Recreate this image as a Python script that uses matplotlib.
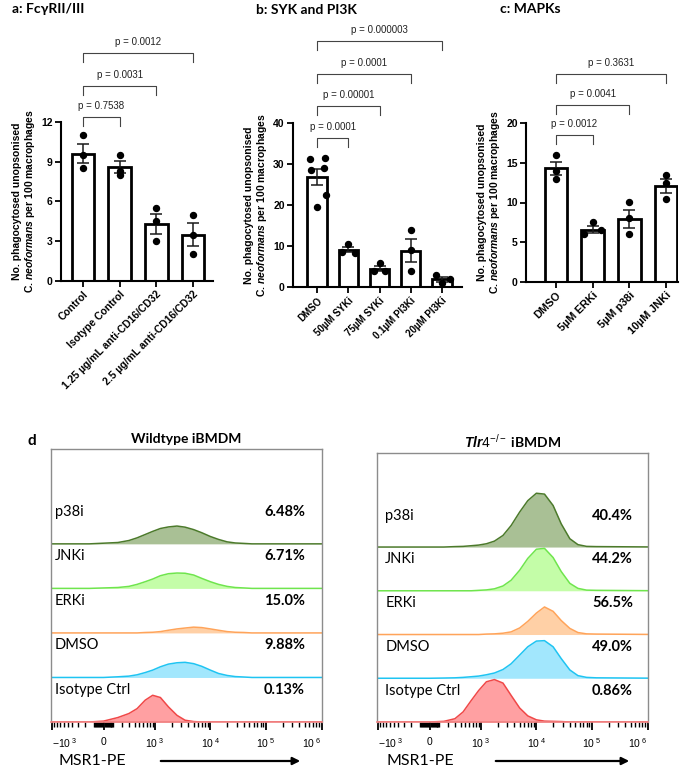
import numpy as np
import matplotlib
matplotlib.use('Agg')
import matplotlib.pyplot as plt
from matplotlib.ticker import NullFormatter

W, H = 698, 767

plt.rcParams['font.family'] = ['Liberation Sans', 'DejaVu Sans']
plt.rcParams['mathtext.fontset'] = 'custom'
plt.rcParams['mathtext.rm'] = 'Liberation Sans'
plt.rcParams['mathtext.it'] = 'Liberation Sans:italic:bold'
plt.rcParams['mathtext.bf'] = 'Liberation Sans:bold'
CAL = ['Lato', 'DejaVu Sans']

# ---- panel a: FcgRII/III blocking ----
a_labels = ['Control', 'Isotype Control', '1.25 µg/mL anti-CD16/CD32', '2.5 µg/mL anti-CD16/CD32']
a_means = [9.6, 8.6, 4.3, 3.5]
a_sems = [0.73, 0.42, 0.75, 0.88]
a_points = [[11.0, 9.5, 8.5], [9.5, 8.3, 8.0], [5.5, 4.5, 3.0], [5.0, 3.5, 2.0]]
a_jitter = [[0, 0, 0], [0, 0, 0], [0, 0, 0], [0, 0, 0]]
a_pairs = [(0, 1), (0, 2), (0, 3)]
a_pvals = ['p = 0.7538', 'p = 0.0031', 'p = 0.0012']

# ---- panel b: SYK and PI3K ----
b_labels = ['DMSO', '50µM SYKi', '75µM SYKi', '0.1µM PI3Ki', '20µM PI3Ki']
b_means = [26.9, 9.1, 4.5, 8.9, 1.9]
b_sems = [1.9, 0.6, 0.6, 2.9, 0.6]
b_points = [[31.1, 31.5, 28.5, 29.1, 22.4, 19.6], [10.5, 8.6, 8.4], [5.9, 3.8, 4.0],
            [13.9, 9.0, 3.9], [2.9, 2.0, 0.9]]
b_jitter = [[-0.23, 0.25, -0.2, 0.23, 0.3, 0], [0, -0.19, 0.21], [0, -0.19, 0.18],
            [0, 0, 0], [-0.2, 0.25, 0]]
b_pairs = [(0, 1), (0, 2), (0, 3), (0, 4)]
b_pvals = ['p = 0.0001', 'p = 0.00001', 'p = 0.0001', 'p = 0.000003']

# ---- panel c: MAPKs ----
c_labels = ['DMSO', '5µM ERKi', '5µM p38i', '10µM JNKi']
c_means = [14.3, 6.6, 7.9, 12.1]
c_sems = [0.85, 0.45, 1.1, 0.85]
c_points = [[16.0, 13.95, 13.0], [7.5, 6.1, 6.6], [10.1, 8.1, 6.1], [13.5, 12.5, 10.5]]
c_jitter = [[0, 0, 0], [0, -0.23, 0.24], [0, 0, 0], [0, 0, 0]]
c_pairs = [(0, 1), (0, 2), (0, 3)]
c_pvals = ['p = 0.0012', 'p = 0.0041', 'p = 0.3631']

# ---- panel d: MSR1-PE histograms (height in units of row spacing) ----
conditions = ['Isotype Ctrl', 'DMSO', 'ERKi', 'JNKi', 'p38i']
msr1_grid = [-2000, -400, -150, 0, 150, 300, 450, 650, 900, 1250, 1750, 2500, 3500,
             5000, 7000, 10000, 14000, 20000, 28000, 40000, 56000, 80000, 120000, 2000000]
wt_hist = {
    'Isotype Ctrl': [0, 0, 0, 0.02, 0.10, 0.19, 0.30, 0.49, 0.60, 0.55, 0.34, 0.15, 0.04,
                     0.01, 0, 0, 0, 0, 0, 0, 0, 0, 0, 0],
    'DMSO': [0, 0, 0, 0, 0.015, 0.03, 0.06, 0.11, 0.165, 0.24, 0.30, 0.33, 0.34,
             0.31, 0.25, 0.165, 0.09, 0.045, 0.02, 0.01, 0, 0, 0, 0],
    'ERKi': [0, 0, 0, 0, 0, 0, 0, 0.01, 0.015, 0.03, 0.06, 0.09, 0.11,
             0.13, 0.12, 0.09, 0.06, 0.03, 0.015, 0.01, 0, 0, 0, 0],
    'JNKi': [0, 0, 0, 0.01, 0.02, 0.045, 0.09, 0.15, 0.21, 0.285, 0.33, 0.345, 0.34,
             0.30, 0.225, 0.15, 0.09, 0.045, 0.02, 0.01, 0, 0, 0, 0],
    'p38i': [0, 0, 0, 0.015, 0.03, 0.075, 0.135, 0.21, 0.28, 0.345, 0.38, 0.40, 0.375,
             0.32, 0.25, 0.165, 0.10, 0.045, 0.02, 0.01, 0, 0, 0, 0],
}
tlr4_hist = {
    'Isotype Ctrl': [0, 0, 0, 0, 0.015, 0.075, 0.23, 0.49, 0.72, 0.92, 0.97, 0.89, 0.61,
                     0.32, 0.14, 0.05, 0.02, 0.015, 0.01, 0, 0, 0, 0, 0],
    'DMSO': [0, 0, 0, 0, 0.005, 0.01, 0.02, 0.035, 0.05, 0.08, 0.12, 0.20, 0.33,
             0.53, 0.72, 0.85, 0.86, 0.72, 0.45, 0.19, 0.06, 0.02, 0.01, 0],
    'ERKi': [0, 0, 0, 0, 0, 0, 0, 0, 0, 0.01, 0.015, 0.03, 0.06,
             0.15, 0.30, 0.49, 0.63, 0.53, 0.32, 0.14, 0.045, 0.015, 0.01, 0],
    'JNKi': [0, 0, 0, 0, 0, 0, 0, 0, 0.01, 0.02, 0.045, 0.11, 0.24,
             0.47, 0.74, 0.95, 0.97, 0.76, 0.44, 0.17, 0.055, 0.015, 0.01, 0],
    'p38i': [0, 0, 0, 0, 0, 0.01, 0.015, 0.03, 0.045, 0.075, 0.135, 0.265, 0.49,
             0.80, 1.06, 1.23, 1.21, 0.95, 0.53, 0.19, 0.055, 0.015, 0.01, 0],
}
wt_pct = ['0.13%', '9.88%', '15.0%', '6.71%', '6.48%']
tlr4_pct = ['0.86%', '49.0%', '56.5%', '44.2%', '40.4%']

fill_cols = ['#ffa0a2', '#a2e7fd', '#ffd0a6', '#c4fda8', '#a9c095']
edge_cols = ['#f04848', '#1fc4f2', '#ffa45a', '#6fe54d', '#4c7a2b']

fig = plt.figure(figsize=(W / 100, H / 100), dpi=100)


def rect(l, t, r, b):
    return [l / W, 1 - b / H, (r - l) / W, (b - t) / H]


def bar_panel(box, labels, means, sems, points, jitter, pairs, pvals,
              yticks, xlim, br_y, leg, txt_off, xfs):
    ax = fig.add_axes(rect(*box))
    x = np.arange(len(labels))
    ax.bar(x, means, width=0.62, color='white', edgecolor='black', linewidth=2, zorder=1)
    ax.errorbar(x, means, yerr=sems, fmt='none', ecolor='#1a1a1a', elinewidth=1.1,
                capsize=4, capthick=1.1, zorder=2)
    for i, (p, j) in enumerate(zip(points, jitter)):
        ax.plot(i + np.array(j), p, 'o', color='black', ms=4.3, zorder=3, clip_on=False)
    for (i, k), txt, y in zip(pairs, pvals, br_y):
        ax.plot([i, i, k, k], [y - leg, y, y, y - leg], color='#444444', lw=0.8,
                clip_on=False)
        ax.text((i + k) / 2, y + txt_off, txt, ha='center', va='center', fontsize=7,
                color='#222222')
    ax.set_xlim(*xlim)
    ax.set_ylim(0, yticks[-1])
    ax.set_yticks(yticks)
    ax.set_xticks(x)
    ax.set_xticklabels(labels, rotation=45, ha='right', rotation_mode='anchor',
                       fontsize=xfs, fontweight='bold')
    for t in ax.get_yticklabels():
        t.set_fontweight('bold')
        t.set_fontsize(7.5)
    for s in ['top', 'right']:
        ax.spines[s].set_visible(False)
    for s in ['left', 'bottom']:
        ax.spines[s].set_linewidth(1.5)
    ax.tick_params(direction='out', length=4, width=1.3, pad=2)
    ax.set_ylabel('No. phagocytosed unopsonised\nC. $\\mathit{neoformans}$ per 100 macrophages',
                  fontsize=7.5, fontweight='bold', labelpad=3, linespacing=1.1)
    return ax


bar_panel((61, 122, 213, 281), a_labels, a_means, a_sems, a_points, a_jitter, a_pairs,
          a_pvals, [0, 3, 6, 9, 12], (-0.6, 3.55), [12.38, 14.74, 17.18], 0.68, 0.83, 7.5)
bar_panel((293, 123, 462, 287), b_labels, b_means, b_sems, b_points, b_jitter, b_pairs,
          b_pvals, [0, 10, 20, 30, 40], (-0.77, 4.64), [36.27, 44.2, 51.95, 60.07], 2.2, 2.7, 7)
bar_panel((526, 123, 678, 282), c_labels, c_means, c_sems, c_points, c_jitter, c_pairs,
          c_pvals, [0, 5, 10, 15, 20], (-0.82, 3.33), [18.49, 22.3, 26.2], 1.15, 1.4, 7.8)

fig.text(12 / W, 1 - 9 / H, 'a: FcγRII/III', fontsize=10, fontweight='bold', family=CAL, va='center')
fig.text(256 / W, 1 - 10 / H, 'b: SYK and PI3K', fontsize=10, fontweight='bold', family=CAL, va='center')
fig.text(500 / W, 1 - 9 / H, 'c: MAPKs', fontsize=10, fontweight='bold', family=CAL, va='center')
fig.text(27 / W, 1 - 441 / H, 'd', fontsize=11, fontweight='bold', family=CAL, va='center')

major = [-1000, 0, 1000, 10000, 100000, 1000000]
major_lbl = ['$-10^{\\ 3}$', '0', '$10^{\\ 3}$', '$10^{\\ 4}$', '$10^{\\ 5}$', '$10^{\\ 6}$']
minor = sorted([s * k * 10 ** n for s in (-1, 1) for n in (1, 2) for k in range(1, 10)] +
               [k * 10 ** n for n in (3, 4, 5) for k in range(2, 10)])


def hist_panel(box, hist, pct, title, lab_x, pct_x, top):
    ax = fig.add_axes(rect(*box))
    ax.set_xscale('asinh', linear_width=239)
    for i, cond in enumerate(conditions):
        h = np.array(hist[cond])
        ax.fill_between(msr1_grid, i, i + h, color=fill_cols[i], lw=0, zorder=1)
        ax.plot(msr1_grid, i + h, color=edge_cols[i], lw=1.1, zorder=2)
        ax.text(lab_x, i + 0.72, cond, transform=ax.get_yaxis_transform(), fontsize=10.5,
                family=CAL, va='center', ha='left')
        ax.text(pct_x, i + 0.72, pct[i], transform=ax.get_yaxis_transform(), fontsize=10.5,
                family=CAL, fontweight='bold', va='center', ha='right')
    ax.set_xlim(-1040, 1.02e6)
    ax.set_ylim(0, top)
    ax.set_yticks([])
    ax.set_xticks(major)
    ax.set_xticklabels(major_lbl, fontsize=7.5)
    ax.set_xticks(minor, minor=True)
    ax.xaxis.set_minor_formatter(NullFormatter())
    lbls = ax.get_xticklabels()
    lbls[0].set_ha('left')
    lbls[-1].set_ha('right')
    ax.tick_params(axis='x', which='major', direction='out', length=5.5, width=1.3, pad=5,
                   color='black')
    ax.tick_params(axis='x', which='minor', direction='out', length=3.5, width=1.0,
                   color='black')
    for s in ['top', 'left', 'right']:
        ax.spines[s].set_color('#8c8c8c')
        ax.spines[s].set_linewidth(1)
    ax.spines['bottom'].set_color('#f08080')
    ax.spines['bottom'].set_linewidth(1.2)
    ax.set_title(title, fontsize=10, fontweight='bold', family=CAL, pad=4)
    return ax


hist_panel((51, 449, 322, 722), wt_hist, wt_pct, 'Wildtype iBMDM', 0.015, 0.937, 6.13)
hist_panel((377, 453, 648, 722), tlr4_hist, tlr4_pct, '$\\mathit{Tlr4}^{-/-}$ iBMDM', 0.03, 0.945, 6.15)

for lx, a0, a1 in [(58, 158, 303), (387, 493, 632)]:
    fig.text(lx / W, 1 - 761 / H, 'MSR1-PE', fontsize=11.5, family=CAL, va='center')
    fig.add_artist(matplotlib.patches.FancyArrowPatch(
        (a0 / W, 1 - 761 / H), (a1 / W, 1 - 761 / H), transform=fig.transFigure,
        arrowstyle='-|>', mutation_scale=11, lw=1.6, color='black'))

fig.savefig('out.png', dpi=100)
